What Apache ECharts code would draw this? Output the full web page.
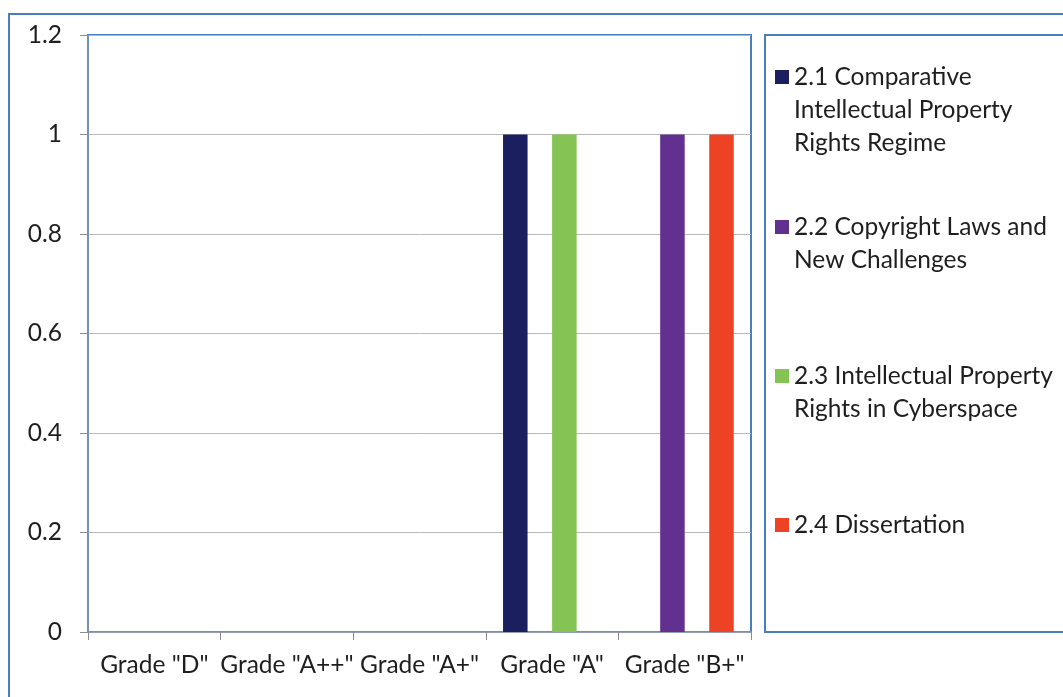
<!DOCTYPE html>
<html>
<head>
<meta charset="utf-8">
<script src="https://cdn.jsdelivr.net/npm/echarts@6/dist/echarts.min.js"></script>
<style>
  html, body { margin: 0; padding: 0; background: #fff; }
  #chart { width: 1063px; height: 697px; }
</style>
</head>
<body>
<div id="chart"></div>
<script>
// categories and values
const categories = ['Grade "D"', 'Grade "A++"', 'Grade "A+"', 'Grade "A"', 'Grade "B+"']
const comparativeIPR = [0, 0, 0, 1, 0]
const copyrightLaws = [0, 0, 0, 0, 1]
const iprCyberspace = [0, 0, 0, 1, 0]
const dissertation = [0, 0, 0, 0, 1]
const yTicks = [0, 0.2, 0.4, 0.6, 0.8, 1, 1.2]

const seriesNames = [
  '2.1 Comparative Intellectual Property Rights Regime',
  '2.2 Copyright Laws and New Challenges',
  '2.3 Intellectual Property Rights in Cyberspace',
  '2.4 Dissertation'
]
// how the legend wraps each name
const legendLines = [
  ['2.1 Comparative', 'Intellectual Property', 'Rights Regime'],
  ['2.2 Copyright Laws and', 'New Challenges'],
  ['2.3 Intellectual Property', 'Rights in Cyberspace'],
  ['2.4 Dissertation']
]
const seriesData = [comparativeIPR, copyrightLaws, iprCyberspace, dissertation]
const colors = ['#1b1f5f', '#62318f', '#84c455', '#ee4224']

const FONT = 'Lato'
const FONT_SIZE = 24.5
const TEXT_COLOR = '#1e1e1e'
const LINE_H = 33
const BLUE = '#4a7ebb'

const chart = echarts.init(document.getElementById('chart'))

// 图例：每项一个 legend，前面补空行让色块对齐第一行
const legendFirstLineY = [77, 227, 376, 525]
const legends = seriesNames.map((name, i) => {
  const n = legendLines[i].length
  const blank = new Array(n - 1).fill(' ')
  return {
    orient: 'vertical',
    left: 775,
    top: legendFirstLineY[i] - (2 * n - 1) * LINE_H / 2,
    padding: 0,
    itemWidth: 14,
    itemHeight: 14,
    icon: 'rect',
    selectedMode: false,
    data: [name],
    formatter: () => blank.concat(legendLines[i]).join('\n'),
    textStyle: {
      fontFamily: FONT,
      fontSize: FONT_SIZE,
      color: TEXT_COLOR,
      lineHeight: LINE_H
    }
  }
})

const option = {
  color: colors,
  animation: false,
  grid: {
    left: 88,
    top: 35,
    right: 312,
    bottom: 65,
    show: true,
    borderColor: BLUE,
    borderWidth: 2
  },
  legend: legends,
  xAxis: {
    type: 'category',
    data: categories,
    axisLine: { lineStyle: { color: '#8497b5', width: 1.5 } },
    axisTick: { show: true, length: 8, lineStyle: { color: '#8c8c8c' } },
    axisLabel: {
      fontFamily: FONT,
      fontSize: FONT_SIZE,
      color: TEXT_COLOR,
      margin: 21,
      interval: 0
    }
  },
  yAxis: {
    type: 'value',
    min: yTicks[0],
    max: yTicks[yTicks.length - 1],
    interval: 0.2,
    axisLine: { show: true, lineStyle: { color: '#8497b5', width: 1.5 } },
    axisTick: { show: true, length: 8, lineStyle: { color: '#8c8c8c' } },
    splitLine: { lineStyle: { color: '#b8b8b8', width: 1 } },
    axisLabel: {
      fontFamily: FONT,
      fontSize: FONT_SIZE,
      color: TEXT_COLOR,
      margin: 26,
      formatter: (v) => String(Math.round(v * 10) / 10)
    }
  },
  series: seriesNames.map((name, i) => ({
    name: name,
    type: 'bar',
    data: seriesData[i],
    barGap: '0%',
    barCategoryGap: '26%'
  })),
  graphic: [
    // 外框
    {
      type: 'rect',
      shape: { x: 9, y: 14, width: 1100, height: 720 },
      style: { fill: 'none', stroke: BLUE, lineWidth: 2 },
      silent: true
    },
    // 图例框
    {
      type: 'rect',
      shape: { x: 765, y: 35, width: 320, height: 597 },
      style: { fill: 'none', stroke: BLUE, lineWidth: 2 },
      silent: true
    }
  ]
}

chart.setOption(option)
</script>
</body>
</html>
